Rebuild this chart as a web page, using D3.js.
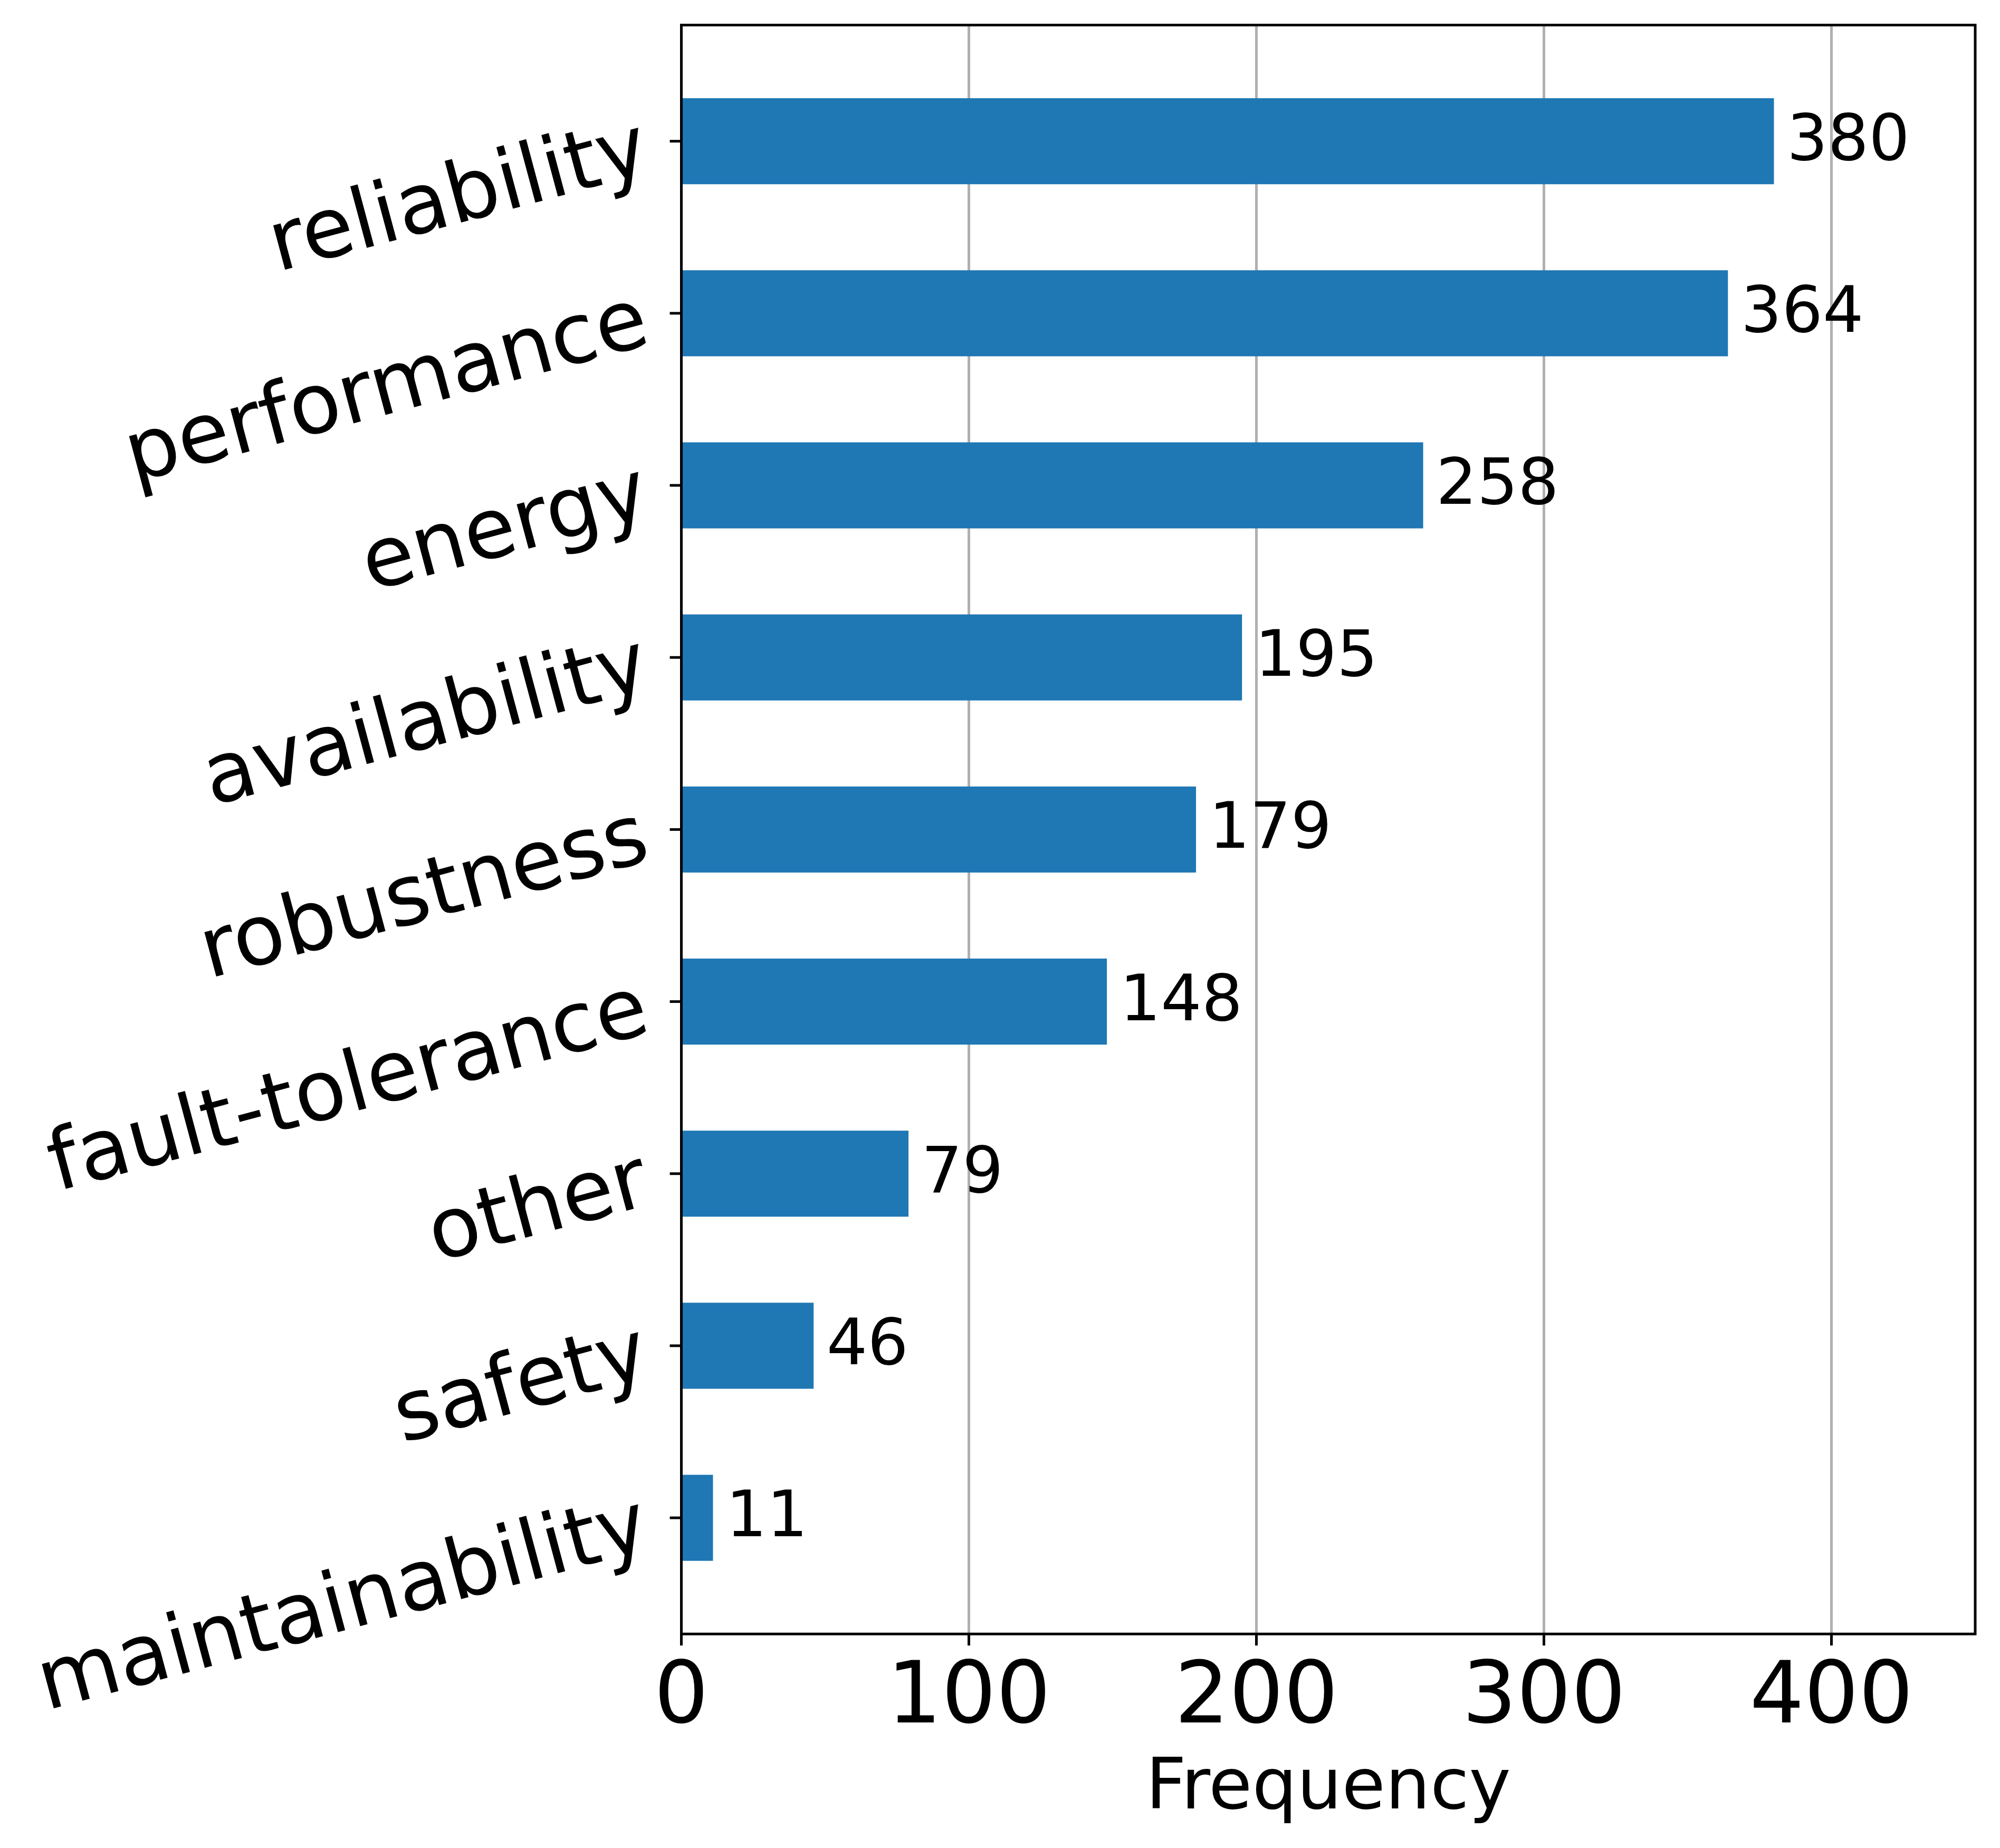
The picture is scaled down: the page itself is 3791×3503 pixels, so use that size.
<!DOCTYPE html>
<html>
<head>
<meta charset="utf-8">
<script src="https://cdn.jsdelivr.net/npm/d3@7"></script>
<style>
  html, body { margin: 0; padding: 0; background: #ffffff; }
  svg { display: block; }
  text { font-family: "DejaVu Sans", sans-serif; fill: #000; }
</style>
</head>
<body>
<div id="chart"></div>
<script>
// ---- data ----
const categories = ["reliability", "performance", "energy", "availability", "robustness",
                    "fault-tolerance", "other", "safety", "maintainability"];
const values = [380, 364, 258, 195, 179, 148, 79, 46, 11];
const xTicks = [0, 100, 200, 300, 400];
const xLabel = "Frequency";

// ---- layout ----
const W = 3791, H = 3503;
const plot = { left: 1291.5, right: 3744, top: 47.5, bottom: 3097.3 };

const svg = d3.select("#chart").append("svg")
  .attr("width", W).attr("height", H)
  .attr("viewBox", `0 0 ${W} ${H}`);

svg.append("rect").attr("width", W).attr("height", H).attr("fill", "#fff");

const x = d3.scaleLinear().domain([0, 450]).range([plot.left, plot.right]);
const n = categories.length;
const y = d3.scaleLinear().domain([-0.675, n - 1 + 0.675]).range([plot.top, plot.bottom]);

const barColor = "#1f77b4";
const lw = 5;        // 0.8pt at 450 dpi
const tickLen = 21.9;

// grid (below bars)
svg.append("g").selectAll("line").data(xTicks).join("line")
  .attr("x1", d => x(d)).attr("x2", d => x(d))
  .attr("y1", plot.top).attr("y2", plot.bottom)
  .attr("stroke", "#b0b0b0").attr("stroke-width", lw);

// bars
svg.append("g").selectAll("rect").data(values).join("rect")
  .attr("x", x(0))
  .attr("y", (d, i) => y(i - 0.25))
  .attr("width", d => x(d) - x(0))
  .attr("height", (d, i) => y(i + 0.25) - y(i - 0.25))
  .attr("fill", barColor);

// value labels
svg.append("g").selectAll("text").data(values).join("text")
  .attr("x", d => x(d) + 24.5)
  .attr("y", (d, i) => y(i) + 35)
  .attr("font-size", 122)
  .text(d => d);

// spines
svg.append("rect")
  .attr("x", plot.left).attr("y", plot.top)
  .attr("width", plot.right - plot.left).attr("height", plot.bottom - plot.top)
  .attr("fill", "none").attr("stroke", "#000").attr("stroke-width", lw)
  .attr("stroke-linejoin", "miter");

// x ticks
const xg = svg.append("g");
xg.selectAll("line").data(xTicks).join("line")
  .attr("x1", d => x(d)).attr("x2", d => x(d))
  .attr("y1", plot.bottom).attr("y2", plot.bottom + tickLen)
  .attr("stroke", "#000").attr("stroke-width", lw);
xg.selectAll("text").data(xTicks).join("text")
  .attr("x", d => x(d))
  .attr("y", plot.bottom + 168)
  .attr("text-anchor", "middle")
  .attr("font-size", 162.5)
  .text(d => d);

// y ticks
const yg = svg.append("g");
yg.selectAll("line").data(categories).join("line")
  .attr("x1", plot.left - tickLen).attr("x2", plot.left)
  .attr("y1", (d, i) => y(i)).attr("y2", (d, i) => y(i))
  .attr("stroke", "#000").attr("stroke-width", lw);
yg.selectAll("g").data(categories).join("g")
  .attr("transform", (d, i) => `translate(${plot.left - 70},${y(i)}) rotate(-15)`)
  .append("text")
  .attr("x", 0).attr("y", 59)
  .attr("text-anchor", "end")
  .attr("font-size", 159)
  .text(d => d);

// x axis label
svg.append("text")
  .attr("x", (plot.left + plot.right) / 2)
  .attr("y", 3428)
  .attr("text-anchor", "middle")
  .attr("font-size", 134)
  .text(xLabel);
</script>
</body>
</html>
